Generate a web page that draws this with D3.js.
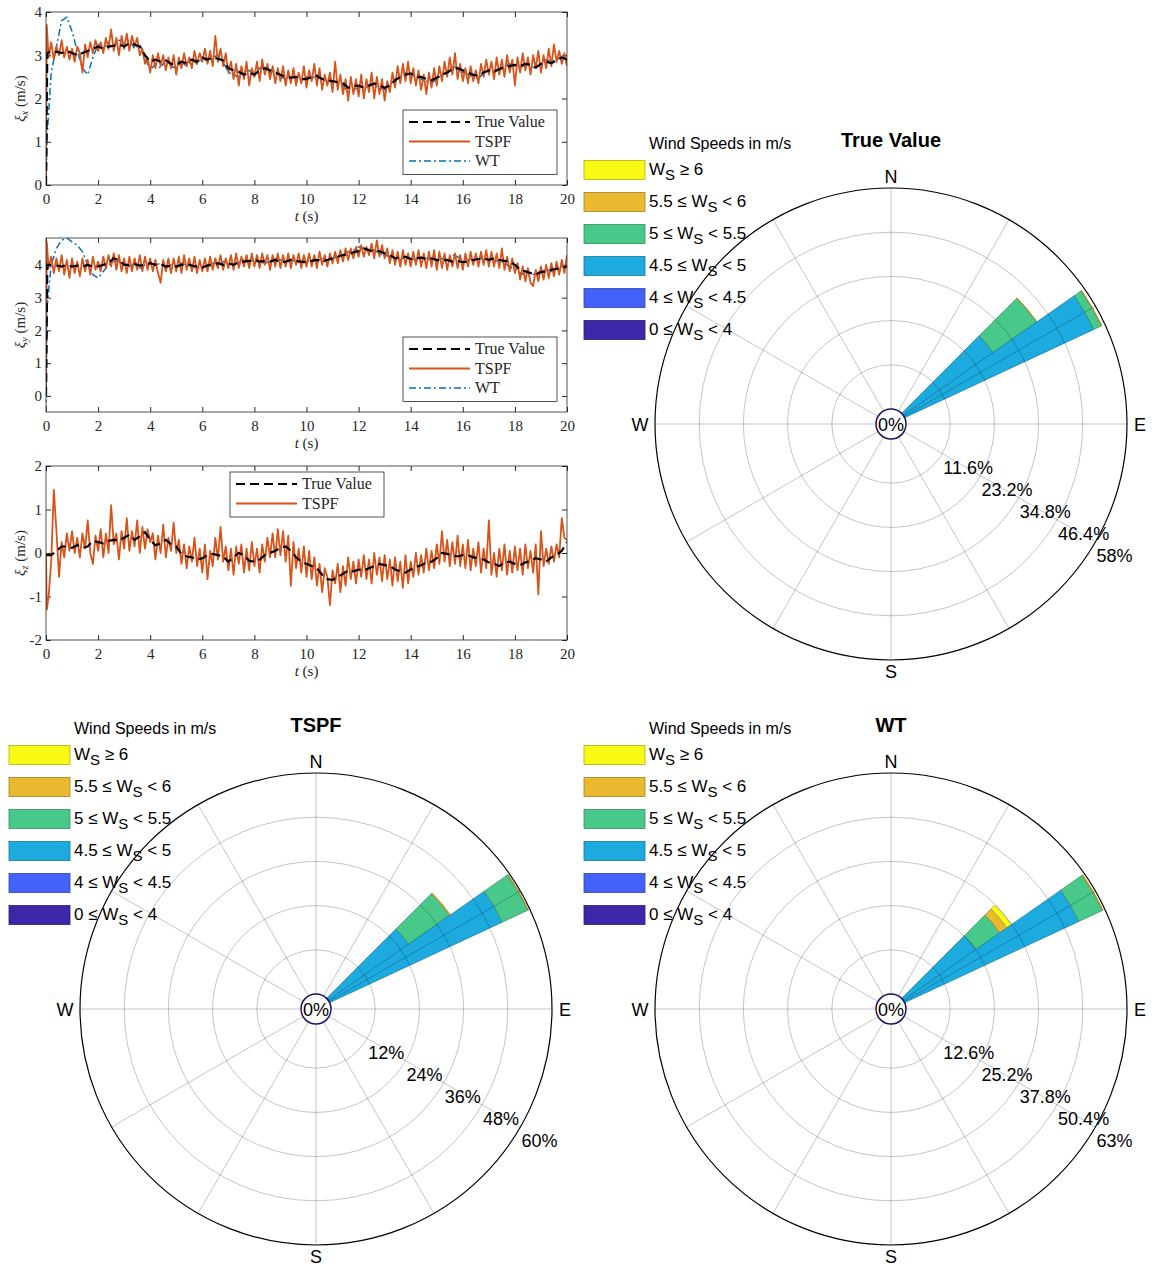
<!DOCTYPE html>
<html>
<head>
<meta charset="utf-8">
<script src="https://cdn.jsdelivr.net/npm/d3@7"></script>
<style>
  body { margin: 0; background: #fff; }
  svg { display: block; }
</style>
</head>
<body>
<svg id="chart" width="1152" height="1268"></svg>
<script>
// ---- time series data ----
// coarse series: t = 0, 0.05, then every 0.2 s up to 20
var xTrue = [0, 3.05,
  3.1, 3.08, 3.05, 3.1, 3.05, 3.0, 3.05, 3.1, 3.15, 3.2,
  3.15, 3.2, 3.22, 3.25, 3.2, 3.28, 3.25, 3.2, 3.0, 2.85,
  2.9, 2.85, 2.88, 2.8, 2.78, 2.85, 2.82, 2.9, 2.85, 2.95,
  2.9, 2.95, 2.92, 2.88, 2.7, 2.65, 2.62, 2.55, 2.6, 2.55,
  2.65, 2.7, 2.65, 2.6, 2.55, 2.5, 2.48, 2.5, 2.45, 2.45,
  2.5, 2.52, 2.45, 2.42, 2.4, 2.38, 2.35, 2.25, 2.28, 2.3,
  2.25, 2.3, 2.35, 2.3, 2.25, 2.3, 2.42, 2.5, 2.55, 2.58,
  2.5, 2.5, 2.45, 2.42, 2.48, 2.55, 2.6, 2.68, 2.7, 2.65,
  2.6, 2.55, 2.52, 2.6, 2.65, 2.62, 2.68, 2.72, 2.75, 2.78,
  2.75, 2.8, 2.78, 2.72, 2.8, 2.85, 2.82, 2.88, 2.95, 2.9];
var xWt = [0, 1.2,
  2.6, 3.2, 3.8, 3.88, 3.55, 3.1, 2.7, 2.55, 2.95, 3.25,
  3.15, 3.3, 3.2, 3.35, 3.2, 3.35, 3.15, 3.25, 2.95, 2.65,
  2.8, 2.7, 2.9, 2.75, 2.7, 2.85, 2.75, 2.9, 2.8, 2.95,
  2.85, 2.95, 3.0, 2.85, 2.6, 2.55, 2.5, 2.6, 2.65, 2.55,
  2.7, 2.75, 2.6, 2.65, 2.5, 2.45, 2.55, 2.45, 2.4, 2.5,
  2.45, 2.55, 2.4, 2.45, 2.35, 2.3, 2.3, 2.15, 2.2, 2.25,
  2.2, 2.3, 2.3, 2.25, 2.2, 2.3, 2.45, 2.5, 2.6, 2.55,
  2.5, 2.45, 2.4, 2.35, 2.45, 2.55, 2.6, 2.75, 2.7, 2.6,
  2.55, 2.5, 2.45, 2.6, 2.65, 2.6, 2.7, 2.75, 2.8, 2.75,
  2.7, 2.8, 2.75, 2.7, 2.8, 2.9, 2.85, 2.9, 2.95, 2.9];
// fine series: t = 0, 0.03, then every 0.1 s up to 20
var xTspf = [0, 3.7,
  2.95, 3.3, 2.9, 3.2, 3.0, 3.35, 2.95, 3.2, 2.9, 3.15,
  2.85, 3.2, 3.05, 2.6, 3.25, 2.95, 3.3, 3.05, 3.35, 3.1,
  3.3, 3.05, 3.4, 3.15, 3.6, 3.1, 3.4, 3.0, 3.45, 3.15,
  3.5, 3.1, 3.45, 3.2, 3.4, 3.0, 3.15, 2.8, 2.95, 2.6,
  3.0, 2.7, 3.05, 2.75, 3.0, 2.65, 2.95, 2.7, 3.0, 2.55,
  2.95, 2.7, 3.05, 2.75, 2.95, 2.7, 3.1, 2.8, 3.05, 2.85,
  3.15, 2.8, 3.1, 2.75, 3.45, 2.85, 3.15, 2.75, 3.05, 2.6,
  2.85, 2.45, 2.8, 2.3, 2.75, 2.45, 2.85, 2.3, 2.7, 2.5,
  2.85, 2.4, 2.9, 2.55, 2.8, 2.45, 2.75, 2.35, 2.7, 2.4,
  2.75, 2.3, 2.65, 2.35, 2.7, 2.3, 2.6, 2.35, 2.75, 2.25,
  2.65, 2.4, 2.8, 2.3, 2.7, 2.2, 2.55, 2.3, 2.6, 2.15,
  2.85, 2.2, 2.55, 2.1, 2.45, 1.95, 2.5, 2.1, 2.45, 2.05,
  2.55, 2.0, 2.45, 2.15, 2.6, 2.0, 2.5, 2.1, 2.45, 1.95,
  2.4, 2.15, 2.6, 2.25, 2.75, 2.35, 2.8, 2.4, 2.85, 2.35,
  2.7, 2.3, 2.65, 2.2, 2.55, 2.1, 2.6, 2.25, 2.7, 2.3,
  2.75, 2.4, 2.85, 2.5, 2.95, 2.55, 3.05, 2.45, 2.8, 2.4,
  2.7, 2.35, 2.75, 2.4, 2.65, 2.35, 2.8, 2.5, 2.9, 2.55,
  2.85, 2.45, 2.95, 2.55, 2.9, 2.5, 3.0, 2.6, 2.9, 2.3,
  2.95, 2.6, 3.05, 2.65, 2.95, 2.55, 3.0, 2.7, 3.1, 2.6,
  3.0, 2.7, 3.15, 2.75, 3.25, 2.85, 3.1, 2.8, 3.05, 2.75];

var yTrue = [0, 4.0,
  4.0, 3.98, 3.95, 4.0, 3.95, 3.98, 3.95, 4.0, 3.95, 3.95,
  4.0, 4.05, 4.2, 4.15, 4.0, 4.0, 4.02, 3.98, 4.0, 4.05,
  4.0, 4.02, 3.95, 3.98, 3.95, 4.0, 4.02, 3.98, 3.95, 3.92,
  3.98, 4.0, 4.05, 4.0, 4.05, 4.0, 4.08, 4.1, 4.12, 4.15,
  4.1, 4.12, 4.1, 4.15, 4.08, 4.1, 4.15, 4.12, 4.1, 4.08,
  4.12, 4.15, 4.1, 4.15, 4.2, 4.25, 4.3, 4.32, 4.38, 4.42,
  4.5, 4.45, 4.4, 4.42, 4.35, 4.3, 4.2, 4.22, 4.25, 4.18,
  4.2, 4.22, 4.18, 4.2, 4.15, 4.12, 4.15, 4.1, 4.12, 4.08,
  4.1, 4.15, 4.18, 4.2, 4.15, 4.2, 4.15, 4.12, 4.1, 4.0,
  3.85, 3.8, 3.75, 3.7, 3.78, 3.8, 3.85, 3.88, 3.92, 3.95];
var yWt = [-0.5, 2.8,
  4.0, 4.5, 4.75, 4.82, 4.7, 4.6, 4.4, 4.0, 3.7, 3.6,
  3.8, 4.0, 4.1, 4.1, 4.0, 3.95, 4.05, 3.9, 4.0, 4.05,
  4.0, 4.05, 3.9, 4.0, 3.95, 4.05, 4.0, 3.95, 3.9, 3.95,
  4.0, 4.05, 3.95, 4.1, 4.05, 4.0, 4.1, 4.15, 4.1, 4.15,
  4.1, 4.05, 4.1, 4.2, 4.15, 4.05, 4.15, 4.1, 4.05, 4.1,
  4.15, 4.1, 4.2, 4.15, 4.2, 4.25, 4.35, 4.4, 4.45, 4.55,
  4.5, 4.4, 4.45, 4.35, 4.3, 4.25, 4.2, 4.15, 4.25, 4.2,
  4.15, 4.25, 4.2, 4.15, 4.1, 4.2, 4.15, 4.3, 4.25, 4.1,
  4.15, 4.2, 4.25, 4.15, 4.2, 4.1, 4.15, 4.05, 3.95, 3.85,
  3.75, 3.7, 3.65, 3.75, 3.8, 3.85, 3.8, 3.9, 3.95, 4.0];
var yTspf = [0, 4.7,
  3.9, 4.25, 3.75, 4.2, 3.8, 4.3, 3.7, 4.15, 3.6, 4.2,
  3.75, 4.1, 3.65, 4.2, 3.8, 4.15, 3.7, 4.25, 3.85, 4.1,
  3.8, 4.25, 3.9, 4.3, 3.95, 4.35, 3.85, 4.3, 3.8, 4.2,
  3.75, 4.25, 3.8, 4.2, 3.85, 4.3, 3.8, 4.25, 3.85, 4.2,
  3.8, 4.15, 3.75, 3.45, 4.15, 3.8, 4.2, 3.75, 4.2, 3.8,
  4.25, 3.75, 4.3, 3.85, 4.2, 3.8, 4.25, 3.75, 4.15, 3.8,
  4.2, 3.8, 4.25, 3.85, 4.2, 3.9, 4.3, 3.85, 4.2, 3.9,
  4.3, 3.85, 4.35, 3.9, 4.25, 3.95, 4.3, 3.9, 4.35, 3.95,
  4.3, 3.9, 4.35, 4.0, 4.3, 3.85, 4.3, 3.95, 4.35, 3.9,
  4.3, 3.95, 4.35, 3.9, 4.3, 4.0, 4.35, 3.9, 4.3, 3.95,
  4.35, 3.95, 4.3, 3.9, 4.4, 4.0, 4.3, 3.95, 4.35, 4.05,
  4.4, 4.05, 4.45, 4.1, 4.5, 4.15, 4.5, 4.2, 4.55, 4.25,
  4.6, 4.25, 4.55, 4.3, 4.65, 4.2, 4.75, 4.25, 4.6, 4.2,
  4.5, 4.05, 4.45, 4.0, 4.4, 3.95, 4.45, 4.0, 4.35, 3.95,
  4.4, 4.0, 4.45, 3.95, 4.35, 3.9, 4.4, 3.95, 4.45, 3.85,
  4.4, 3.9, 4.35, 3.85, 4.3, 3.95, 4.35, 3.9, 4.3, 3.85,
  4.35, 3.95, 4.4, 4.0, 4.35, 3.95, 4.4, 4.0, 4.45, 3.95,
  4.4, 3.95, 4.35, 3.9, 4.5, 3.85, 4.25, 3.8, 4.2, 3.75,
  4.05, 3.55, 3.95, 3.5, 3.9, 3.45, 3.35, 3.85, 3.5, 3.95,
  3.55, 4.0, 3.6, 4.05, 3.65, 4.1, 3.7, 4.15, 3.75, 4.3];

var zTrue = [-0.05, -0.05,
  -0.05, 0.05, 0.15, 0.15, 0.12, 0.18, 0.12, 0.15, 0.28, 0.25,
  0.22, 0.28, 0.3, 0.28, 0.35, 0.42, 0.3, 0.38, 0.48, 0.3,
  0.18, 0.22, 0.3, 0.2, 0.15, -0.02, -0.08, -0.1, -0.15, -0.12,
  -0.05, -0.02, -0.05, -0.08, -0.2, -0.1, 0.0, -0.05, -0.18, -0.2,
  -0.15, -0.05, 0.0, 0.05, 0.12, 0.15, 0.05, -0.1, -0.2, -0.25,
  -0.3, -0.35, -0.5, -0.6, -0.62, -0.55, -0.48, -0.4, -0.42, -0.38,
  -0.4, -0.35, -0.3, -0.25, -0.28, -0.3, -0.38, -0.42, -0.45, -0.38,
  -0.32, -0.28, -0.22, -0.2, -0.12, 0.0, -0.02, -0.05, -0.08, -0.05,
  -0.05, -0.1, -0.12, -0.15, -0.22, -0.25, -0.3, -0.22, -0.2, -0.25,
  -0.28, -0.22, -0.18, -0.12, -0.15, -0.2, -0.1, -0.05, 0.05, 0.25];
var zTspf = [0, -1.3,
  -1.0, -0.2, 1.45, 0.5, -0.55, 0.25, -0.1, 0.45, 0.05, 0.5,
  0.0, 0.35, -0.1, 0.45, 0.1, 0.75, 0.0, -0.25, 0.4, 0.05,
  0.55, -0.1, 0.45, 0.0, 1.1, 0.2, 0.45, -0.15, 0.5, 0.1,
  0.8, 0.05, 0.5, 0.15, 0.75, 0.0, 0.6, 0.1, 0.55, 0.25,
  0.45, -0.15, 0.4, 0.0, 0.65, -0.1, 0.35, 0.05, 0.7, 0.0,
  0.3, -0.25, 0.2, -0.35, 0.15, -0.2, 0.35, -0.3, 0.1, -0.45,
  0.2, -0.6, 0.05, -0.3, 0.35, -0.15, 0.6, -0.2, 0.15, -0.4,
  0.1, -0.5, 0.15, -0.25, 0.2, -0.45, 0.1, -0.4, 0.25, -0.3,
  0.1, -0.45, 0.2, -0.2, 0.35, -0.1, 0.45, -0.1, 0.55, -0.05,
  0.5, -0.2, 0.4, -0.75, 0.25, -0.35, 0.1, -0.45, 0.15, -0.55,
  0.05, -0.6, -0.1, -0.75, -0.25, -0.9, -0.35, -0.55, -1.2, -0.4,
  -0.7, -0.25, -0.9, -0.3, -0.75, -0.1, -0.6, -0.2, -0.7, -0.15,
  -0.55, -0.05, -0.6, -0.15, -0.7, 0.0, -0.5, -0.1, -0.65, -0.05,
  -0.6, -0.15, -0.75, -0.1, -0.65, -0.2, -0.8, -0.05, -0.7, -0.2,
  -0.55, 0.0, -0.5, -0.05, -0.45, 0.1, -0.4, 0.05, -0.35, 0.2,
  -0.25, 0.5, -0.2, 0.3, -0.3, 0.25, -0.25, 0.4, -0.3, 0.2,
  -0.35, 0.3, -0.4, 0.1, -0.3, 0.25, -0.45, 0.1, -0.35, 0.75,
  -0.5, 0.0, -0.55, 0.1, -0.4, 0.2, -0.5, 0.05, -0.45, 0.15,
  -0.4, 0.1, -0.5, 0.2, -0.35, 0.05, -0.45, 0.2, -0.95, 0.5,
  -0.3, 0.1, -0.25, 0.15, -0.2, 0.2, -0.1, 0.8, 0.35, 0.3];

var timeTicks = [0, 2, 4, 6, 8, 10, 12, 14, 16, 18, 20];

// ---- wind rose data ----
var speedLabels = [
  [{t: '0 ≤ W'}, {t: 'S', sub: true}, {t: ' < 4'}],
  [{t: '4 ≤ W'}, {t: 'S', sub: true}, {t: ' < 4.5'}],
  [{t: '4.5 ≤ W'}, {t: 'S', sub: true}, {t: ' < 5'}],
  [{t: '5 ≤ W'}, {t: 'S', sub: true}, {t: ' < 5.5'}],
  [{t: '5.5 ≤ W'}, {t: 'S', sub: true}, {t: ' < 6'}],
  [{t: 'W'}, {t: 'S', sub: true}, {t: ' ≥ 6'}]
];
var speedColors = ['#3e26a8', '#4362f9', '#1caadf', '#48c98a', '#eab92f', '#f9fa14'];
var roseDirections = [50, 60];   // bin centres (deg from N), 10 deg wide
// percent per speed bin, one row per direction
var trueFreq = [[0, 0, 28.8, 13.9, 0.15, 0], [0, 0, 54.8, 2.2, 0.1, 0]];
var tspfFreq = [[0, 0.3, 26.3, 13.6, 0.3, 0], [0, 0.1, 51.6, 7.7, 0.2, 0]];
var wtFreq = [[0, 0.2, 25.1, 8.3, 2.5, 1.5], [0, 0.1, 54.7, 7.4, 0.25, 0]];
var trueRings = [11.6, 23.2, 34.8, 46.4, 58];
var tspfRings = [12, 24, 36, 48, 60];
var wtRings = [12.6, 25.2, 37.8, 50.4, 63];

var svg = d3.select('#chart');
var serif = '"Liberation Serif", "Times New Roman", serif';
var sans = '"Liberation Sans", Arial, Helvetica, sans-serif';

function coarseTime(i) { return i === 0 ? 0 : i === 1 ? 0.05 : (i - 1) * 0.2; }
function fineTime(i) { return i === 0 ? 0 : i === 1 ? 0.03 : (i - 1) * 0.1; }

var panels = [
  {id: 'x', top: 12, bottom: 185, y: [0, 4], ticks: [0, 1, 2, 3, 4],
    truth: xTrue, tspf: xTspf, wt: xWt, lx: 403, ly: 110},
  {id: 'y', top: 238, bottom: 412, y: [-0.49, 4.82], ticks: [0, 1, 2, 3, 4],
    truth: yTrue, tspf: yTspf, wt: yWt, lx: 403, ly: 337},
  {id: 'z', top: 466, bottom: 640, y: [-2, 2], ticks: [-2, -1, 0, 1, 2],
    truth: zTrue, tspf: zTspf, wt: null, lx: 230, ly: 472}
];

var tickFmt = function(d) { return String(d); };

function styleAxis(sel) {
  sel.select('.domain').remove();
  sel.selectAll('line').attr('stroke', '#262626');
  sel.selectAll('text').attr('fill', '#262626').style('font-family', serif).style('font-size', '15px');
}

function drawPanel(p) {
  var left = 46, right = 567;
  var x = d3.scaleLinear().domain([0, 20]).range([left, right]);
  var y = d3.scaleLinear().domain(p.y).range([p.bottom, p.top]);
  var g = svg.append('g');

  svg.append('clipPath').attr('id', 'clip-' + p.id)
    .append('rect').attr('x', left).attr('y', p.top)
    .attr('width', right - left).attr('height', p.bottom - p.top);

  g.append('g').attr('transform', 'translate(0,' + p.bottom + ')')
    .call(d3.axisBottom(x).tickValues(timeTicks).tickFormat(tickFmt).tickSizeInner(-5).tickSizeOuter(0).tickPadding(8))
    .call(styleAxis);
  g.append('g').attr('transform', 'translate(0,' + p.top + ')')
    .call(d3.axisTop(x).tickValues(timeTicks).tickSizeInner(-5).tickSizeOuter(0).tickFormat(''))
    .call(styleAxis);
  g.append('g').attr('transform', 'translate(' + left + ',0)')
    .call(d3.axisLeft(y).tickValues(p.ticks).tickFormat(tickFmt).tickSizeInner(-5).tickSizeOuter(0).tickPadding(4))
    .call(styleAxis);
  g.append('g').attr('transform', 'translate(' + right + ',0)')
    .call(d3.axisRight(y).tickValues(p.ticks).tickSizeInner(-5).tickSizeOuter(0).tickFormat(''))
    .call(styleAxis);

  var lines = g.append('g').attr('clip-path', 'url(#clip-' + p.id + ')');
  if (p.wt) {
    lines.append('path').datum(p.wt)
      .attr('d', d3.line().x(function(d, i) { return x(coarseTime(i)); }).y(function(d) { return y(d); }))
      .attr('fill', 'none').attr('stroke', '#0072bd').attr('stroke-width', 1.5)
      .attr('stroke-dasharray', '7,3,2,3');
  }
  lines.append('path').datum(p.tspf)
    .attr('d', d3.line().x(function(d, i) { return x(fineTime(i)); }).y(function(d) { return y(d); }))
    .attr('fill', 'none').attr('stroke', '#d95319').attr('stroke-width', 1.8)
    .attr('stroke-linejoin', 'round');
  lines.append('path').datum(p.truth)
    .attr('d', d3.line().x(function(d, i) { return x(coarseTime(i)); }).y(function(d) { return y(d); }))
    .attr('fill', 'none').attr('stroke', '#000').attr('stroke-width', 2.2)
    .attr('stroke-dasharray', '9,5');

  g.append('rect').attr('x', left).attr('y', p.top)
    .attr('width', right - left).attr('height', p.bottom - p.top)
    .attr('fill', 'none').attr('stroke', '#262626').attr('stroke-width', 0.8);

  // axis labels
  var xl = g.append('text').attr('x', (left + right) / 2).attr('y', p.bottom + 36)
    .attr('text-anchor', 'middle').style('font-family', serif).style('font-size', '15px').attr('fill', '#262626');
  xl.append('tspan').style('font-style', 'italic').text('t');
  xl.append('tspan').text(' (s)');

  var mid = (p.top + p.bottom) / 2;
  var yl = g.append('text').attr('transform', 'translate(25,' + mid + ') rotate(-90)')
    .attr('text-anchor', 'middle').style('font-family', serif).style('font-size', '15px').attr('fill', '#262626');
  yl.append('tspan').style('font-style', 'italic').text('ξ');
  yl.append('tspan').style('font-style', 'italic').style('font-size', '10px').attr('dy', 3).text(p.id);
  yl.append('tspan').attr('dy', -3).text('  (m/s)');

  // legend
  var entries = [{name: 'True Value', color: '#000', w: 2.2, dash: '9,5'},
                 {name: 'TSPF', color: '#d95319', w: 1.8, dash: null}];
  if (p.wt) { entries.push({name: 'WT', color: '#0072bd', w: 1.5, dash: '7,3,2,3'}); }
  var lh = entries.length * 19.5 + 6;
  var lg = g.append('g').attr('transform', 'translate(' + p.lx + ',' + p.ly + ')');
  lg.append('rect').attr('width', 154).attr('height', lh)
    .attr('fill', '#fff').attr('stroke', '#262626').attr('stroke-width', 0.8);
  entries.forEach(function(e, i) {
    var yy = 12 + i * 19.5;
    lg.append('line').attr('x1', 6).attr('x2', 67).attr('y1', yy).attr('y2', yy)
      .attr('stroke', e.color).attr('stroke-width', e.w)
      .attr('stroke-dasharray', e.dash);
    lg.append('text').attr('x', 72).attr('y', yy + 5)
      .style('font-family', serif).style('font-size', '16px').attr('fill', '#262626')
      .text(e.name);
  });
}

panels.forEach(drawPanel);

// ---- wind roses ----
var roses = [
  {cx: 891, cy: 424, title: 'True Value', freq: trueFreq, rings: trueRings},
  {cx: 316, cy: 1009, title: 'TSPF', freq: tspfFreq, rings: tspfRings},
  {cx: 891, cy: 1009, title: 'WT', freq: wtFreq, rings: wtRings}
];

function drawRose(r) {
  var g = svg.append('g').attr('transform', 'translate(' + r.cx + ',' + r.cy + ')');
  var maxP = r.rings[r.rings.length - 1];
  var rad = d3.scaleLinear().domain([0, maxP]).range([15, 236]);
  var arc = d3.arc();
  var toRad = Math.PI / 180;

  // wedges, stacked outward by speed class
  roseDirections.forEach(function(dir, di) {
    var cum = 0;
    r.freq[di].forEach(function(v, si) {
      if (v <= 0) { return; }
      g.append('path')
        .attr('d', arc({innerRadius: rad(cum), outerRadius: rad(cum + v),
          startAngle: (dir - 5) * toRad, endAngle: (dir + 5) * toRad}))
        .attr('fill', speedColors[si])
        .attr('stroke', d3.color(speedColors[si]).darker(1))
        .attr('stroke-width', 0.7);
      cum += v;
    });
  });

  // grid on top
  r.rings.forEach(function(t, k) {
    var outer = k === r.rings.length - 1;
    g.append('circle').attr('r', rad(t)).attr('fill', 'none')
      .attr('stroke', outer ? '#000' : 'rgba(0,0,0,0.26)')
      .attr('stroke-width', outer ? 1.2 : 0.9);
  });
  d3.range(0, 360, 30).forEach(function(a) {
    var s = Math.sin(a * toRad), c = Math.cos(a * toRad);
    g.append('line')
      .attr('x1', rad(0) * s).attr('y1', -rad(0) * c)
      .attr('x2', rad(maxP) * s).attr('y2', -rad(maxP) * c)
      .attr('stroke', 'rgba(0,0,0,0.26)').attr('stroke-width', 0.9);
  });

  g.append('circle').attr('r', rad(0)).attr('fill', 'none')
    .attr('stroke', '#1b1464').attr('stroke-width', 1.5);
  g.append('text').attr('x', 0).attr('y', 7).attr('text-anchor', 'middle')
    .style('font-family', sans).style('font-size', '18px').attr('fill', '#000').text('0%');

  // ring labels along the 120 deg spoke
  r.rings.forEach(function(t) {
    var rr = rad(t);
    g.append('text')
      .attr('x', rr * Math.sin(120 * toRad) + 1)
      .attr('y', -rr * Math.cos(120 * toRad) + 20)
      .style('font-family', sans).style('font-size', '18px').attr('fill', '#000')
      .text(t + '%');
  });

  // compass letters
  [['N', 0, -247], ['E', 249, 1], ['S', 0, 248], ['W', -251, 1]].forEach(function(d) {
    g.append('text').attr('x', d[1]).attr('y', d[2] + 6).attr('text-anchor', 'middle')
      .style('font-family', sans).style('font-size', '18px').attr('fill', '#000').text(d[0]);
  });

  // title
  g.append('text').attr('x', 0).attr('y', -277).attr('text-anchor', 'middle')
    .style('font-family', sans).style('font-size', '20px').style('font-weight', 'bold')
    .attr('fill', '#000').text(r.title);

  // legend
  var lg = g.append('g');
  lg.append('text').attr('x', -242).attr('y', -275)
    .style('font-family', sans).style('font-size', '16px').attr('fill', '#000')
    .text('Wind Speeds in m/s');
  d3.range(speedLabels.length).forEach(function(k) {
    var si = speedLabels.length - 1 - k;
    var yc = -254 + k * 32;
    lg.append('rect').attr('x', -307).attr('y', yc - 9.5).attr('width', 61).attr('height', 19)
      .attr('fill', speedColors[si]).attr('stroke', d3.color(speedColors[si]).darker(1))
      .attr('stroke-width', 0.8);
    var txt = lg.append('text').attr('x', -242).attr('y', yc + 5)
      .style('font-family', sans).style('font-size', '17px').attr('fill', '#000');
    speedLabels[si].forEach(function(part) {
      if (part.sub) {
        txt.append('tspan').attr('dy', 5).style('font-size', '15px').text(part.t);
      } else {
        var ts = txt.append('tspan').text(part.t);
        if (part.t.charAt(0) === ' ') { ts.attr('dy', -5); }
      }
    });
  });
}

roses.forEach(drawRose);
</script>
</body>
</html>
